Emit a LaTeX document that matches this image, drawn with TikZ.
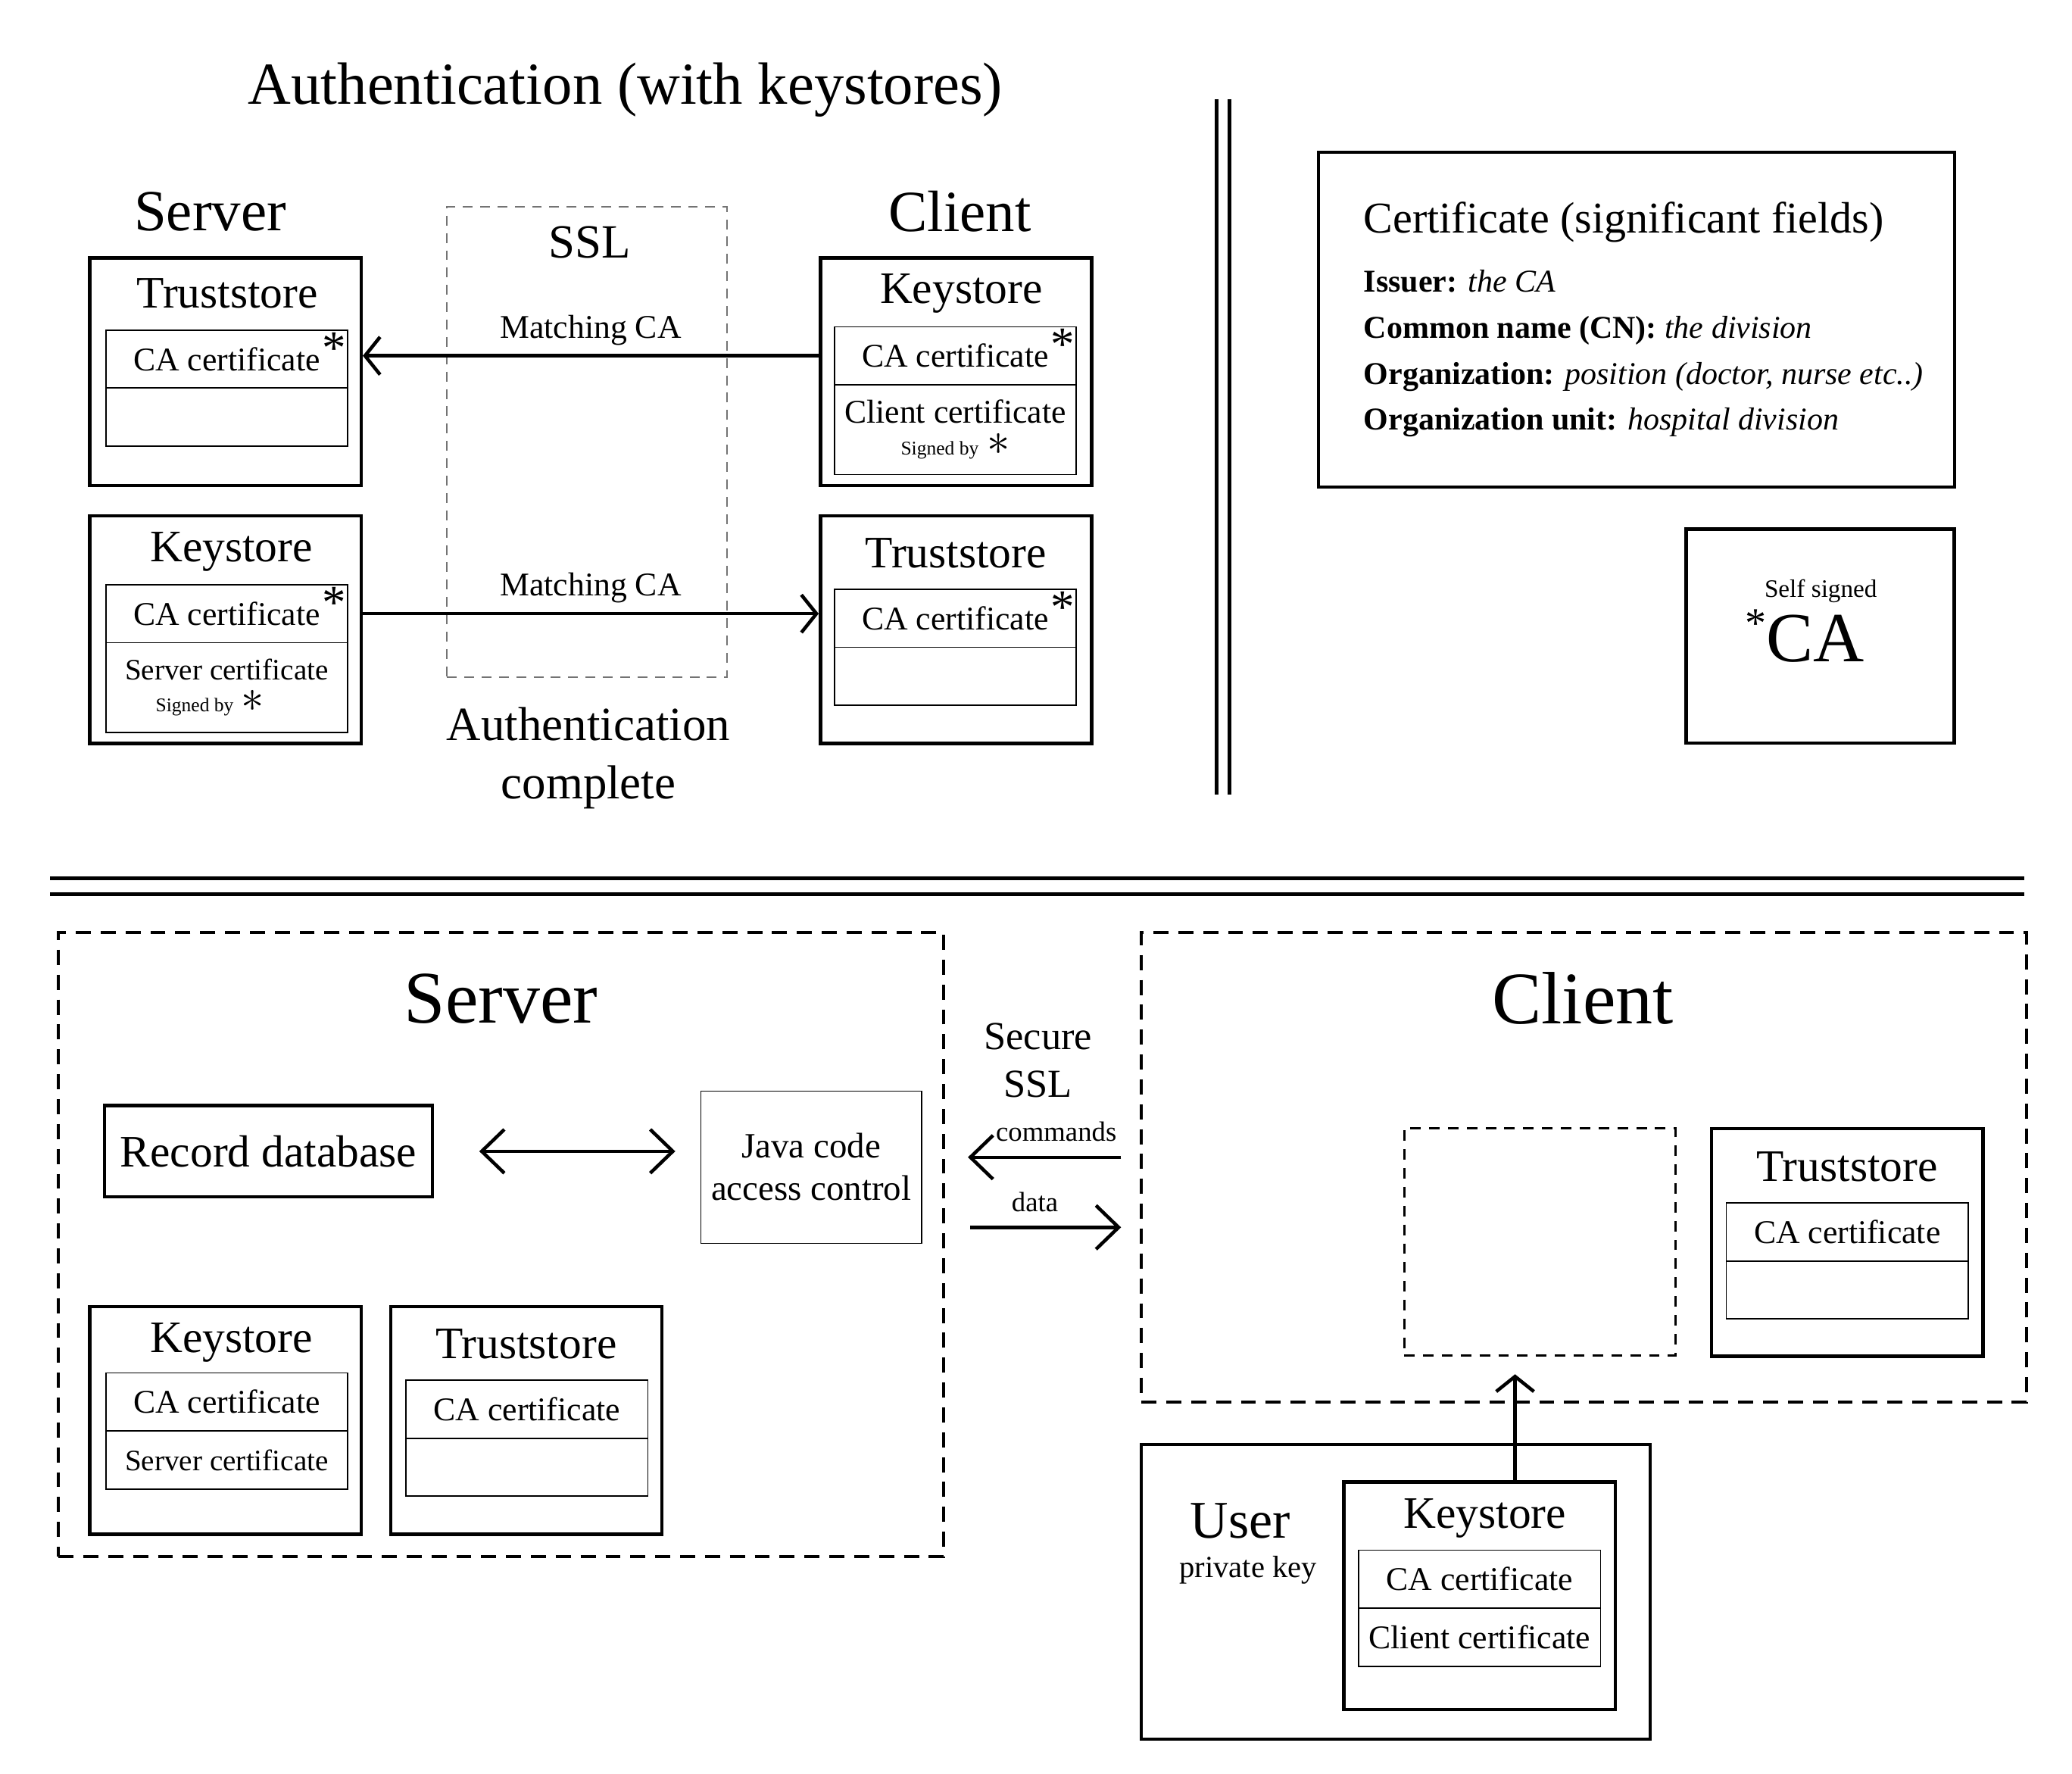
\documentclass[tikz,border=0pt]{standalone}
\usepackage{fontspec}
\setmainfont{Liberation Serif}
\usepackage{tikz}
\usetikzlibrary{arrows.meta,positioning}
\newcommand{\fsz}[2]{\fontsize{#1}{#2}\selectfont}
\newcommand{\cstar}{\smash{\rlap{\hspace{0.03cm}\raisebox{0.09cm}{\fsz{18}{18}*}}}}
\newcommand{\sgn}{{\fsz{7.3}{8}Signed by} {\fsz{17}{17}$\ast$}}
\tikzset{
  store/.style={draw, line width=1.3pt, minimum width=3.6cm, minimum height=3.02cm, inner sep=0},
  cell/.style={draw, line width=0.5pt, minimum width=3.21cm, minimum height=0.77cm, inner sep=0, outer sep=0, font=\fsz{12.5}{12}},
  tall/.style={cell, minimum height=1.19cm},
  title/.style={inner sep=0, font=\fsz{17}{17}},
  arrtop/.style={line width=1.3pt, -{Straight Barb[length=0.2cm, width=0.5cm]}},
  arrbot/.style={line width=1.3pt, -{Straight Barb[length=0.3cm, width=0.58cm]}},
  dbl/.style={line width=1.3pt, {Straight Barb[length=0.3cm, width=0.58cm]}-{Straight Barb[length=0.3cm, width=0.58cm]}},
  dashbox/.style={draw, line width=1.1pt, dash pattern=on 0.2cm off 0.13cm, inner sep=0}
}
\begin{document}
\begin{tikzpicture}[x=0.01754cm, y=-0.01754cm]
        \useasboundingbox (0,0) rectangle (1567,1341);
        %画标题
        \node[font=\fsz{22.5}{22.5}] (title) at (473,68) {Authentication (with keystores)};
        \node[font=\fsz{22}{22}] (srvT) at (159,160) {Server};
        \node[font=\fsz{22}{22}] (cliT) at (726,160) {Client};
        %画SSL虚线框
        \node[draw=black!55, line width=0.5pt, dash pattern=on 0.13cm off 0.1cm, minimum width=3.72cm, minimum height=6.24cm] (ssl) at (444,334) {};
        \node[font=\fsz{18}{18}] (sslT) at (446,183) {SSL};
        \node[align=center, font=\fsz{18}{22}] (done) at (445,573) {Authentication\\complete};
        %服务器端
        \node[store] (sts) at (170.5,281) {};
        \node[title] at (172,222) {Truststore};
        \node[cell] (sts1) at (171.5,271.5) {CA certificate\cstar};
        \node[cell, below=0pt of sts1] (sts2) {};
        \node[store] (sks) at (170.5,476) {};
        \node[title] at (175,417) {Keystore};
        \node[cell] (sks1) at (171.5,464) {CA certificate\cstar};
        \node[tall, below=0pt of sks1, align=center, font=\fsz{11.2}{12}] (sks2) {Server certificate\\\sgn\hspace*{0.45cm}};
        %客户端
        \node[store] (cks) at (723,281) {};
        \node[title] at (727,222) {Keystore};
        \node[cell] (cks1) at (722.5,269) {CA certificate\cstar};
        \node[tall, below=0pt of cks1, align=center] (cks2) {Client certificate\\\sgn};
        \node[store] (cts) at (723,476) {};
        \node[title] at (723,418) {Truststore};
        \node[cell] (cts1) at (722.5,467.5) {CA certificate\cstar};
        \node[cell, below=0pt of cts1] (cts2) {};
        %画箭头
        \draw[arrtop] (cks1.center -| cks.west) -- node[above, font=\fsz{12.5}{12.5}] {Matching CA} (cks1.center -| sts.east);
        \draw[arrtop] (sks1.center -| sks.east) -- node[above, font=\fsz{12.5}{12.5}] {Matching CA} (sks1.center -| cts.west);
        %画竖双线
        \foreach \x in {920,930}
                \draw[line width=1.5pt] (\x,75) -- (\x,601);
        %证书字段
        \node[draw, line width=1.1pt, minimum width=8.44cm, minimum height=4.44cm] (cert) at (1237.5,241.5) {};
        \node[anchor=base west, inner sep=0, font=\fsz{16.6}{16.6}] (certT) at (1031,176) {Certificate (significant fields)};
        \foreach \y/\k/\v in {221/Issuer:/the CA, 256/Common name (CN):/the division, 290.5/Organization:/{position (doctor, nurse etc..)}, 325/Organization unit:/hospital division}
                \node[anchor=base west, inner sep=0, font=\fsz{12}{12}] at (1031,\y) {\textbf{\k} \textit{\v}};
        \node[store, minimum width=3.56cm, minimum height=2.84cm] (ss) at (1376.5,481) {};
        \node[font=\fsz{9.5}{9.5}] at (1377,447) {Self signed};
        \node[font=\fsz{26.6}{26.6}] (ca) at (1373,483) {\smash{\llap{\raisebox{0.32cm}{\fsz{16}{16}*}}}CA};
        %画横双线
        \foreach \y in {664,676}
                \draw[line width=1.5pt] (38,\y) -- (1531,\y);
        %下半部分 服务器
        \node[dashbox, minimum width=11.75cm, minimum height=8.28cm] (srv) at (379,941) {};
        \node[font=\fsz{28}{28}] at (379,755) {Server};
        \node[draw, line width=1.3pt, minimum width=4.35cm, minimum height=1.21cm, font=\fsz{17}{17}] (db) at (203,870.5) {Record database};
        \node[draw, line width=0.5pt, minimum width=2.93cm, minimum height=2.02cm, align=center, font=\fsz{13.4}{16}] (java) at (613.5,882.5) {Java code\\access control};
        \draw[dbl, shorten <=0.6cm, shorten >=0.33cm] (db.east) -- (db.east -| java.west);
        \node[store] (bks) at (170.5,1074) {};
        \node[title] at (175,1015) {Keystore};
        \node[cell] (bks1) at (171.5,1060) {CA certificate};
        \node[cell, below=0pt of bks1, font=\fsz{11.2}{12}] (bks2) {Server certificate};
        \node[store] (bts) at (398,1074) {};
        \node[title] at (398,1016) {Truststore};
        \node[cell] (bts1) at (398.5,1065.5) {CA certificate};
        \node[cell, below=0pt of bts1] (bts2) {};
        %下半部分 客户端
        \node[dashbox, minimum width=11.75cm, minimum height=6.23cm] (cli) at (1198,882.5) {};
        \node[font=\fsz{28}{28}] at (1197,755) {Client};
        \node[draw, line width=0.9pt, dash pattern=on 0.14cm off 0.11cm, minimum width=3.6cm, minimum height=3.02cm] (app) at (1164.5,939) {};
        \node[store] (cts3) at (1397,939.5) {};
        \node[title] at (1397,882) {Truststore};
        \node[cell] (ctb1) at (1397,931.5) {CA certificate};
        \node[cell, below=0pt of ctb1] (ctb2) {};
        %SSL通道
        \node[align=center, font=\fsz{15}{18}] (sec) at (785,802) {Secure\\SSL};
        \coordinate (cmd) at (0,875);
        \coordinate (dat) at (0,928);
        \draw[arrbot, shorten <=0.25cm, shorten >=0.3cm] (cli.west |- cmd) -- node[pos=0.43, above=2pt, font=\fsz{10.5}{10.5}] {commands} (srv.east |- cmd);
        \draw[arrbot, shorten <=0.33cm, shorten >=0.25cm] (srv.east |- dat) -- node[pos=0.46, above=2pt, font=\fsz{10.5}{10.5}] {data} (cli.west |- dat);
        %用户
        \node[draw, line width=1.1pt, minimum width=6.75cm, minimum height=3.91cm] (usr) at (1055.5,1203.5) {};
        \node[font=\fsz{20}{20}] at (938,1150) {User};
        \node[font=\fsz{11.6}{11.6}] at (944,1187) {private key};
        \node[store] (uks) at (1119,1206.5) {};
        \node[title] at (1123,1148) {Keystore};
        \node[cell] (uks1) at (1119,1194) {CA certificate};
        \node[cell, below=0pt of uks1] (uks2) {Client certificate};
        \coordinate (up) at ([xshift=0.47cm]uks.north);
        \draw[arrtop, shorten >=0.23cm] (up) -- (up |- app.south);
\end{tikzpicture}
\end{document}
